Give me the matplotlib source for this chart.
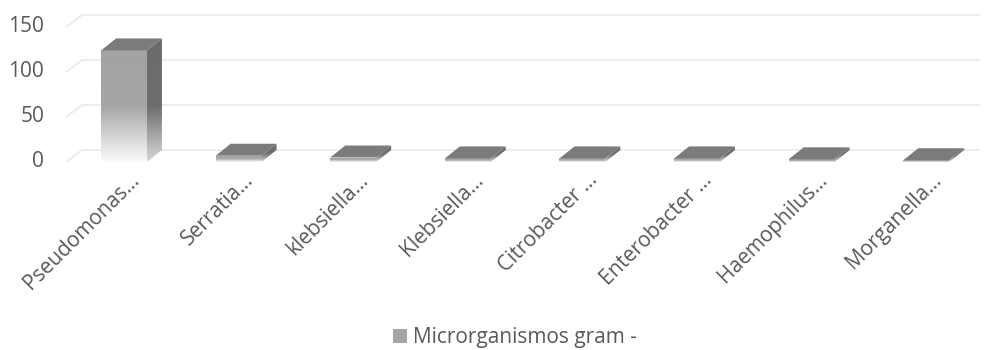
import numpy as np
import matplotlib
matplotlib.use("Agg")
import matplotlib.pyplot as plt
from matplotlib.colors import LinearSegmentedColormap
from matplotlib.patches import Polygon

plt.rcParams['font.family'] = ['Open Sans', 'DejaVu Sans']

# datos
categorias = ['Pseudomonas…', 'Serratia…', 'klebsiella…', 'Klebsiella…',
              'Citrobacter …', 'Enterobacter …', 'Haemophilus…', 'Morganella…']
valores = [124, 7, 5, 4, 4, 4, 3, 2]
serie = 'Microrganismos gram -'
yticks = [0, 50, 100, 150]

gris_texto = '#595959'
ancho = 0.2          # medio ancho de la barra
prof_x, prof_y = 0.131, 13.3   # profundidad del efecto 3D
grid_x, grid_y = 0.14, 13.3

cmap_frente = LinearSegmentedColormap.from_list(
    'frente', [(0, '#a3a3a3'), (0.5, '#a6a6a6'), (1, '#fbfbfb')])
cmap_lado = LinearSegmentedColormap.from_list(
    'lado', [(0, '#6b6b6b'), (0.55, '#6e6e6e'), (1, '#d8d8d8')])

fig = plt.figure(figsize=(9.86, 3.5), dpi=100)
ax = fig.add_axes([0, 0, 1, 1])
ax.set_axis_off()

# lineas de division en el plano del fondo
x_izq, x_der = -0.506, 7.47
for v in yticks:
    ax.plot([x_izq, x_izq + grid_x, x_der], [v, v + grid_y, v + grid_y],
            color='#ebebeb', lw=1.3, zorder=1, solid_capstyle='butt')
    ax.text(-0.698, v + 0.5, str(v), ha='right', va='center',
            fontsize=15, color=gris_texto)

x = np.arange(len(categorias))
barras = ax.bar(x, valores, width=2 * ancho, color='#a5a5a5', label=serie,
                zorder=3, linewidth=0)

grad = np.linspace(0, 1, 256).reshape(-1, 1)
for i, (p, v) in enumerate(zip(barras.patches, valores)):
    # cara frontal con degradado
    im = ax.imshow(grad, cmap=cmap_frente, vmin=0, vmax=1, aspect='auto',
                   origin='upper', extent=[i - ancho, i + ancho, 0, v],
                   zorder=3.1, interpolation='bilinear')
    im.set_clip_path(p)
    # cara lateral
    lado = Polygon([(i + ancho, 0), (i + ancho + prof_x, prof_y),
                    (i + ancho + prof_x, v + prof_y), (i + ancho, v)],
                   closed=True, facecolor='none', edgecolor='none', zorder=3)
    ax.add_patch(lado)
    im2 = ax.imshow(grad, cmap=cmap_lado, vmin=0, vmax=1, aspect='auto',
                    origin='upper',
                    extent=[i + ancho, i + ancho + prof_x, 0, v + prof_y],
                    zorder=3.1, interpolation='bilinear')
    im2.set_clip_path(lado)
    # cara superior
    ax.add_patch(Polygon([(i - ancho, v), (i + ancho, v),
                          (i + ancho + prof_x, v + prof_y),
                          (i - ancho + prof_x, v + prof_y)],
                         closed=True, facecolor='#7b7b7b', edgecolor='none',
                         zorder=3.2))

# etiquetas de categoria giradas
for i, nombre in enumerate(categorias):
    ax.text(i + 0.14, -21, nombre, rotation=45, rotation_mode='anchor',
            ha='right', va='baseline', fontsize=15, color=gris_texto)

ax.legend(loc='center', bbox_to_anchor=(0.5223, 0.0343), frameon=False,
          fontsize=15, handlelength=0.7, handleheight=0.7, handletextpad=0.3,
          labelcolor=gris_texto, borderpad=0)

ax.set_xlim(-124 / 114.6, (986 - 124) / 114.6)
ax.set_ylim((162 - 350) / 0.9, 162 / 0.9)

fig.savefig('out.png', dpi=100)
